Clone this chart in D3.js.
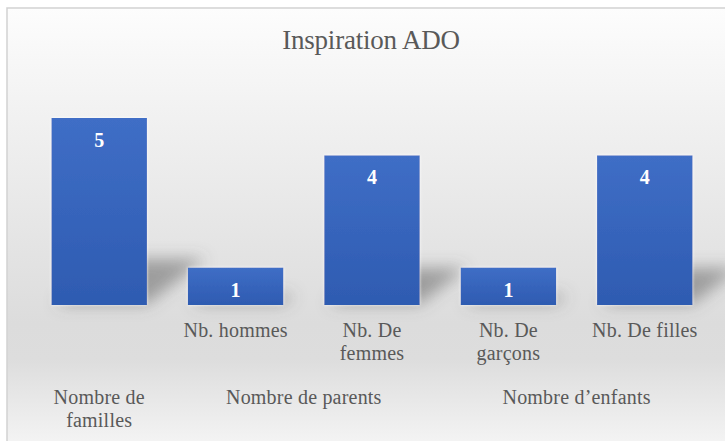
<!DOCTYPE html>
<html><head><meta charset="utf-8">
<script src="https://cdn.jsdelivr.net/npm/d3@7"></script>
<style>html,body{margin:0;padding:0;background:#fff;}svg{display:block;}
text{font-family:"Liberation Serif","Times New Roman",Times,"DejaVu Serif",serif;}</style>
</head><body><div id="chart"></div>
<script>
const title = "Inspiration ADO";
const categories = ["", "Nb. hommes", "Nb. De\nfemmes", "Nb. De\ngarçons", "Nb. De filles"];
const values = [5, 1, 4, 1, 4];
const groups = ["Nombre de\nfamilles", "Nombre de parents", "Nombre d’enfants"];
const groupOfCategory = [0, 1, 1, 2, 2];

const W = 725, H = 441;
const svg = d3.select("#chart").append("svg").attr("width", W).attr("height", H);
const defs = svg.append("defs");

const bg = defs.append("linearGradient").attr("id","bg").attr("x1",0).attr("y1",0).attr("x2",0).attr("y2",1);
[[0,"#fdfdfd"],[0.2,"#f3f3f3"],[0.7,"#dcdcdc"],[0.78,"#dddddd"],[1,"#f8f8f8"]].forEach(([o,c])=>bg.append("stop").attr("offset",o).attr("stop-color",c));

const barG = defs.append("linearGradient").attr("id","barg").attr("x1",0).attr("y1",0).attr("x2",0).attr("y2",1);
[[0,"#3f6ec6"],[1,"#2e5bb1"]].forEach(([o,c])=>barG.append("stop").attr("offset",o).attr("stop-color",c));

const blur = defs.append("filter").attr("id","blur").attr("filterUnits","userSpaceOnUse")
  .attr("x",0).attr("y",0).attr("width",W).attr("height",H);
blur.append("feGaussianBlur").attr("stdDeviation",8);

const glow = defs.append("filter").attr("id","glow").attr("x","-20%").attr("y","-20%").attr("width","140%").attr("height","140%");
glow.append("feGaussianBlur").attr("in","SourceAlpha").attr("stdDeviation",1.5).attr("result","b");
glow.append("feFlood").attr("flood-color","#ffffff").attr("flood-opacity",0.9);
glow.append("feComposite").attr("in2","b").attr("operator","in").attr("result","g");
const m = glow.append("feMerge"); m.append("feMergeNode").attr("in","g"); m.append("feMergeNode").attr("in","SourceGraphic");

// frame
svg.append("rect").attr("x",7).attr("y",8).attr("width",W+10).attr("height",H+10)
  .attr("fill","url(#bg)").attr("stroke","#d2d2d2").attr("stroke-width",1.5);

const x = d3.scaleBand().domain(d3.range(values.length)).range([31, 713]).paddingInner(0.3).paddingOuter(0.15);
const y = d3.scaleLinear().domain([0, 5]).range([305, 118]);

const textColor = "#595959";

svg.append("text").attr("x",371).attr("y",49).attr("text-anchor","middle")
  .attr("font-size",27).attr("fill",textColor).attr("letter-spacing",-0.2).text(title);

// shadows
svg.append("g").attr("filter","url(#blur)").selectAll("path").data(values).join("path")
  .attr("d",(d,i)=>{
    const x0 = x(i)+4, x1 = x(i)+x.bandwidth(), b = y(0)-1, h = (y(0)-y(d))*0.24, dx = h*1.3;
    return `M${x0},${b}L${x1},${b}L${x1+dx},${b-h}L${x0+dx},${b-h}Z`;
  })
  .attr("fill","#5a5a5a").attr("opacity",0.5);

// bars
svg.append("g").selectAll("rect").data(values).join("rect")
  .attr("x",(d,i)=>x(i)).attr("y",d=>y(d)).attr("width",x.bandwidth()).attr("height",d=>y(0)-y(d))
  .attr("fill","url(#barg)").attr("filter","url(#glow)");

// value labels
svg.append("g").selectAll("text").data(values).join("text")
  .attr("x",(d,i)=>x(i)+x.bandwidth()/2).attr("y",d=>y(d)+29)
  .attr("text-anchor","middle").attr("font-weight","bold")
  .attr("font-size",20).attr("fill","#ffffff").text(d=>d);

// category labels
const catG = svg.append("g");
categories.forEach((c,i)=>{
  const t = catG.append("text").attr("text-anchor","middle")
    .attr("font-size",20).attr("fill",textColor).attr("letter-spacing",0.2);
  c.split("\n").forEach((line,k)=>{
    t.append("tspan").attr("x",x(i)+x.bandwidth()/2).attr("y",337+k*23).text(line);
  });
});

// group labels
const grpG = svg.append("g");
groups.forEach((g,gi)=>{
  const idx = groupOfCategory.map((v,i)=>v===gi?i:-1).filter(i=>i>=0);
  const cx = d3.mean(idx, i=>x(i)+x.bandwidth()/2);
  const t = grpG.append("text").attr("text-anchor","middle")
    .attr("font-size",20).attr("fill",textColor).attr("letter-spacing",0.2);
  g.split("\n").forEach((line,k)=>{
    t.append("tspan").attr("x",cx).attr("y",404+k*23).text(line);
  });
});
</script></body></html>
